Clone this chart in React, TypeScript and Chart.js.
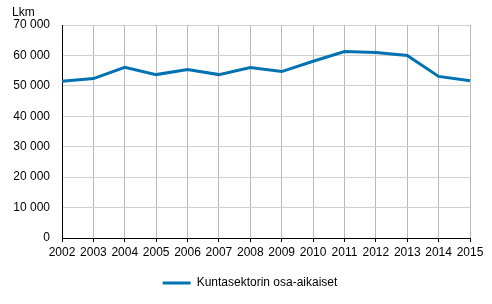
import React, { useEffect, useRef } from "react";
import { Chart, registerables } from "chart.js";

Chart.register(...registerables);

const years = ["2002","2003","2004","2005","2006","2007","2008","2009","2010","2011","2012","2013","2014","2015"];
const osaAikaiset = [51500, 52400, 56100, 53700, 55400, 53700, 56000, 54700, 58100, 61300, 61000, 60000, 53100, 51700];
const seriesLabel = "Kuntasektorin osa-aikaiset";
const unitLabel = "Lkm";

const FONT = "'Liberation Sans', Arial, sans-serif";

const fmt = (v: number) => String(v).replace(/\B(?=(\d{3})+(?!\d))/g, " ");

export default function App() {
  const ref = useRef<HTMLCanvasElement | null>(null);
  useEffect(() => {
    if (!ref.current) return;
    const unitPlugin = {
      id: "unitLabel",
      afterDraw(chart: any) {
        const ctx = chart.ctx;
        ctx.save();
        ctx.font = `12px ${FONT}`;
        ctx.fillStyle = "#000";
        ctx.textAlign = "left";
        ctx.textBaseline = "middle";
        ctx.fillText(unitLabel, 12, 13);
        ctx.restore();
      },
    };
    const chart = new Chart(ref.current, {
      type: "line",
      data: {
        labels: years,
        datasets: [
          {
            label: seriesLabel,
            data: osaAikaiset,
            borderColor: "#0072b2",
            backgroundColor: "#0072b2",
            borderWidth: 3,
            pointRadius: 0,
            pointStyle: "line",
            tension: 0,
          },
        ],
      },
      options: {
        animation: false,
        responsive: false,
        devicePixelRatio: 1,
        layout: { padding: { top: 25, right: 0, left: 8, bottom: 5 } },
        plugins: {
          tooltip: { enabled: false },
          legend: {
            position: "bottom",
            labels: {
              font: { family: FONT, size: 12 },
              color: "#000",
              usePointStyle: true,
              pointStyle: "line",
              pointStyleWidth: 28,
              boxHeight: 12,
              padding: 10,
            },
          },
        },
        scales: {
          x: {
            offset: false,
            afterFit(scale: any) { scale.height = 29; },
            grid: { color: "#b8b8b8", lineWidth: 1, drawTicks: true, tickLength: 4, tickColor: "#000" },
            border: { color: "#000", width: 1 },
            ticks: { font: { family: FONT, size: 12 }, color: "#000", padding: 3, maxRotation: 0, autoSkip: false },
          },
          y: {
            min: 0,
            max: 70000,
            afterFit(scale: any) { scale.width = 54; },
            grid: { color: "#cfcfcf", lineWidth: 1, drawTicks: false },
            border: { color: "#000", width: 1 },
            ticks: {
              stepSize: 10000,
              font: { family: FONT, size: 12 },
              color: "#000",
              padding: 12,
              callback: (v: any) => fmt(Number(v)),
            },
          },
          yRight: {
            position: "right",
            display: true,
            afterFit(scale: any) { scale.width = 22; },
            grid: { display: false, drawTicks: false },
            border: { display: false },
            ticks: { display: false },
          },
        },
      },
      plugins: [unitPlugin],
    });
    return () => chart.destroy();
  }, []);
  return (
    <div style={{ position: "fixed", left: 0, top: 0, width: 492, height: 304, background: "#fff" }}>
      <canvas ref={ref} width={492} height={304} style={{ width: 492, height: 304 }} />
    </div>
  );
}
